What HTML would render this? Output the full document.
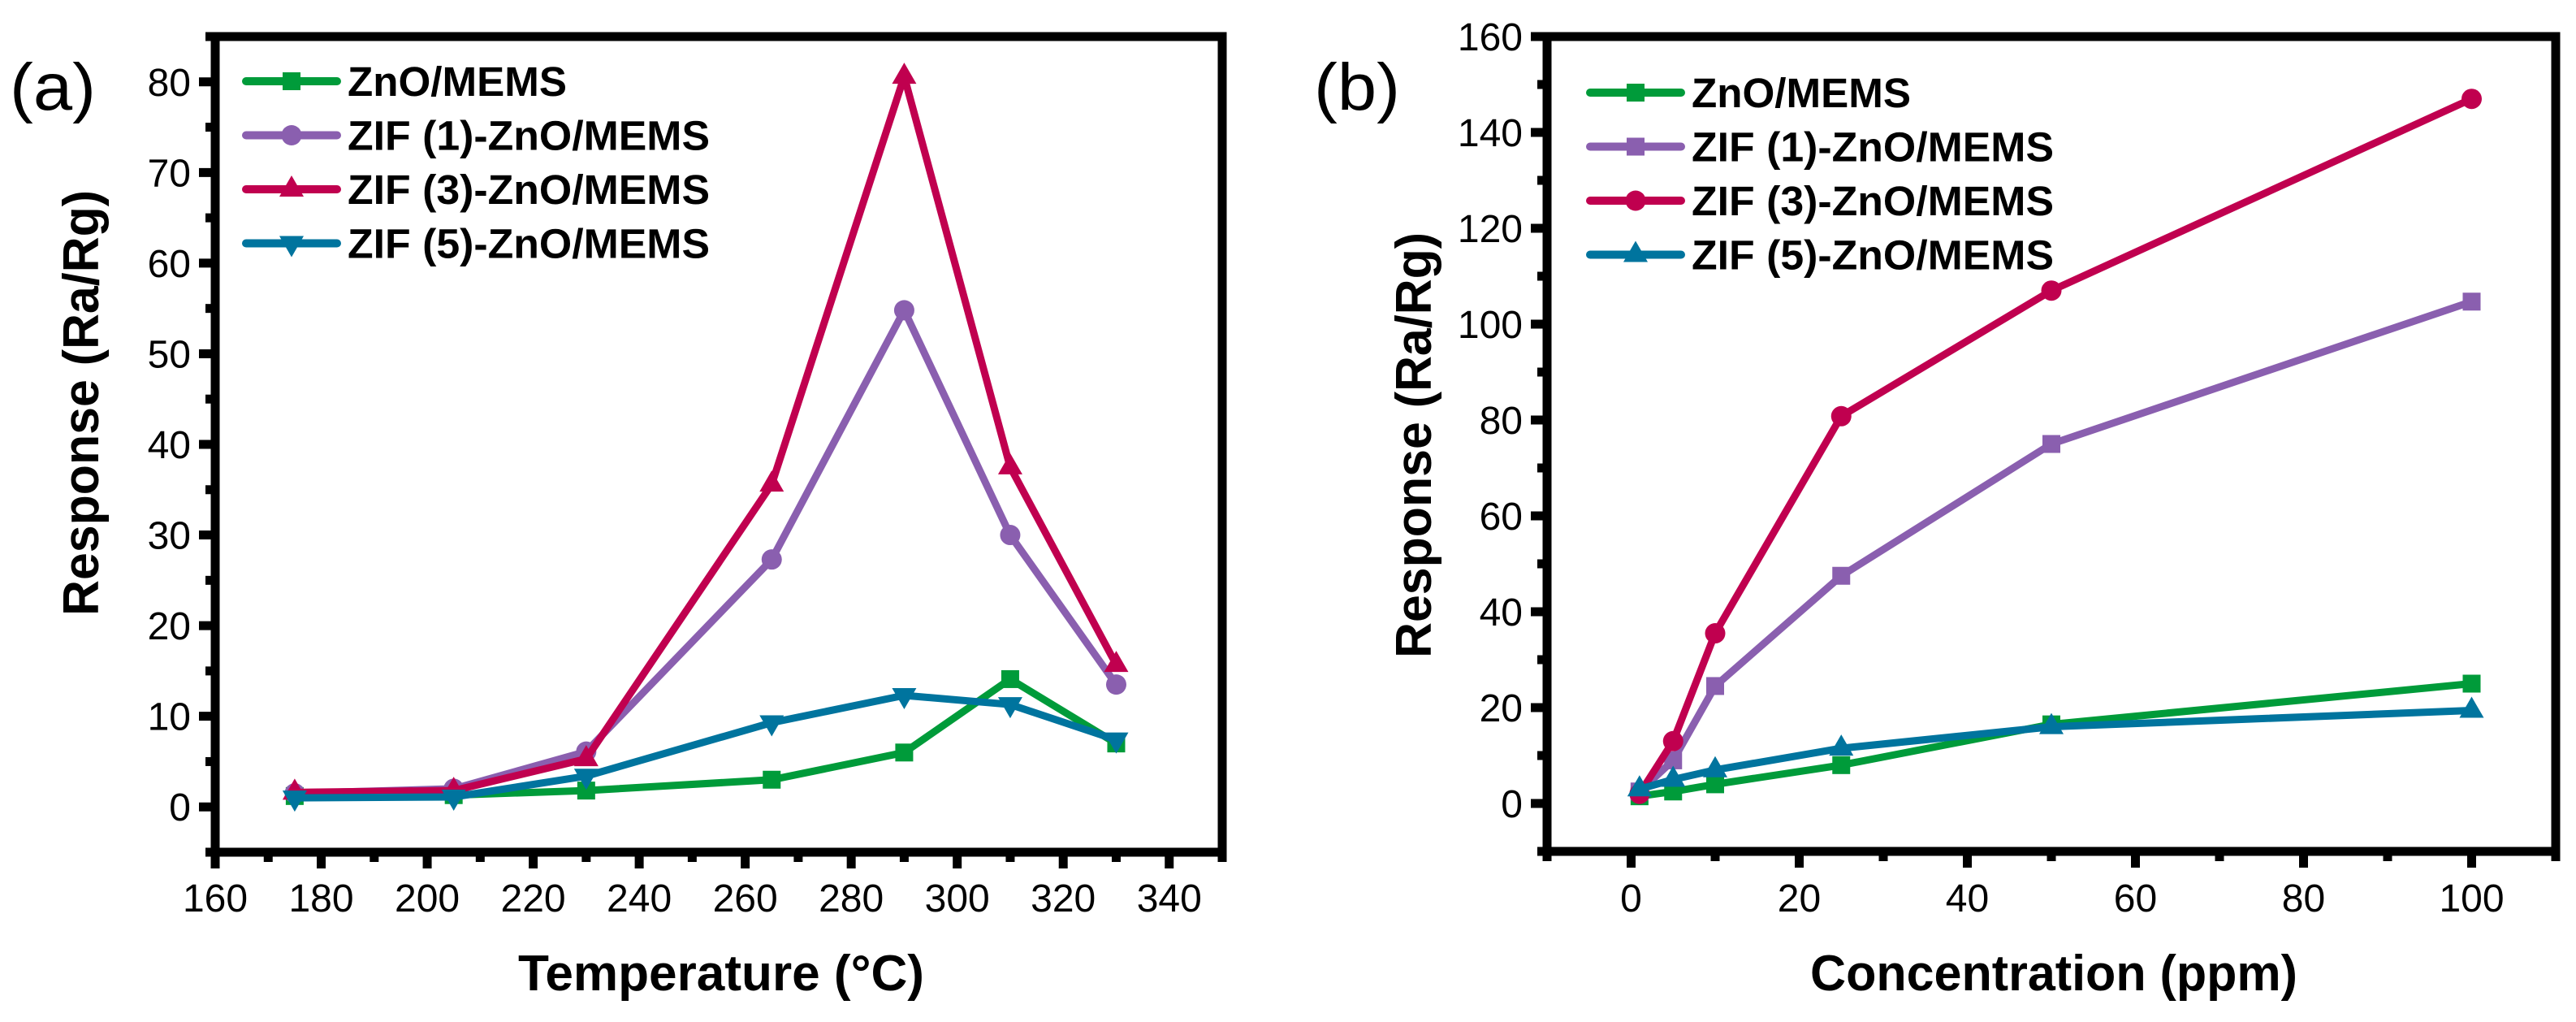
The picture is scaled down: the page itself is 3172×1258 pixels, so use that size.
<!DOCTYPE html>
<html><head><meta charset="utf-8"><style>
html,body{margin:0;padding:0;background:#fff;}
svg{display:block;font-family:"Liberation Sans",Arial,sans-serif;}
</style></head><body>
<svg id="fig" width="3172" height="1258" viewBox="0 0 3172 1258" xmlns="http://www.w3.org/2000/svg">
<rect width="3172" height="1258" fill="#fff"/>
<g id="pa"></g>
<g id="pb"></g>
</svg>
<script>
// Panel (a) data
const aTemps = [175, 205, 230, 265, 290, 310, 330];
const aZnO  = [1.2, 1.3, 1.8, 3.0, 6.0, 14.1, 7.0];
const aZIF1 = [1.5, 2.0, 6.1, 27.3, 54.8, 30.0, 13.5];
const aZIF3 = [1.6, 1.8, 5.3, 35.6, 80.6, 37.5, 15.7];
const aZIF5 = [1.0, 1.1, 3.4, 9.3, 12.3, 11.3, 7.4];
const aXTicks = [160, 180, 200, 220, 240, 260, 280, 300, 320, 340];
const aYTicks = [0, 10, 20, 30, 40, 50, 60, 70, 80];
// Panel (b) data
const bConc = [1, 5, 10, 25, 50, 100];
const bZnO  = [1.5, 2.5, 4.0, 8.0, 16.5, 25.0];
const bZIF1 = [2.5, 9.0, 24.5, 47.5, 75.0, 104.7];
const bZIF3 = [2.0, 13.0, 35.5, 80.8, 107.0, 147.0];
const bZIF5 = [3.0, 5.0, 7.0, 11.5, 16.0, 19.4];
const bXTicks = [0, 20, 40, 60, 80, 100];
const bYTicks = [0, 20, 40, 60, 80, 100, 120, 140, 160];
const seriesNames = ["ZnO/MEMS", "ZIF (1)-ZnO/MEMS", "ZIF (3)-ZnO/MEMS", "ZIF (5)-ZnO/MEMS"];

const NS = "http://www.w3.org/2000/svg";
const COLORS = ["#009B3A", "#8A5FAF", "#C0004F", "#00749E"];
function mk(parent, tag, attrs) {
  const e = document.createElementNS(NS, tag);
  for (const k in attrs) e.setAttribute(k, attrs[k]);
  parent.appendChild(e);
  return e;
}
function marker(g, shape, x, y, color) {
  let m;
  if (shape === "sq") m = mk(g, "rect", {x: x - 11, y: y - 11, width: 22, height: 22, fill: color});
  else if (shape === "ci") m = mk(g, "circle", {cx: x, cy: y, r: 12.5, fill: color});
  else if (shape === "up") m = mk(g, "polygon", {points: `${x},${y-17} ${x+15},${y+9} ${x-15},${y+9}`, fill: color});
  else m = mk(g, "polygon", {points: `${x},${y+17} ${x+15},${y-9} ${x-15},${y-9}`, fill: color});
  return m;
}
function panel(g, cfg) {
  const sx = v => cfg.x0 + (v - cfg.xmin) / (cfg.xmax - cfg.xmin) * (cfg.x1 - cfg.x0);
  const sy = v => cfg.y1 - (v - cfg.ymin) / (cfg.ymax - cfg.ymin) * (cfg.y1 - cfg.y0);
  // series
  cfg.series.forEach((s, i) => {
    const sg = mk(g, "g", {});
    
    
    const pts = cfg.xs.map((x, j) => sx(x).toFixed(1) + "," + sy(s[j]).toFixed(1)).join(" ");
    const pl = mk(sg, "polyline", {points: pts, fill: "none", stroke: COLORS[i], "stroke-width": 9, "stroke-linejoin": "round", "stroke-linecap": "round"});
    
    
    cfg.xs.forEach((x, j) => {
      const m = marker(sg, cfg.shapes[i], sx(x), sy(s[j]), COLORS[i]);
      
      
    });
  });
  // frame
  const fr = mk(g, "rect", {x: cfg.x0, y: cfg.y0, width: cfg.x1 - cfg.x0, height: cfg.y1 - cfg.y0, fill: "none", stroke: "#000", "stroke-width": 11});
  
  
  // y ticks
  for (let v = cfg.ymin; v <= cfg.ymax + 1e-6; v += cfg.yminor) {
    const major = cfg.yTicks.some(t => Math.abs(t - v) < 1e-6);
    const y = sy(v);
    mk(g, "line", {x1: cfg.x0 - (major ? 20 : 12), x2: cfg.x0, y1: y, y2: y, stroke: "#000", "stroke-width": 11});
  }
  cfg.yTicks.forEach(t => {
    const tx = mk(g, "text", {x: cfg.x0 - 30, y: sy(t) + 17, "font-size": 48, "text-anchor": "end", fill: "#000"});
    tx.textContent = t;
    
    
  });
  // x ticks
  for (let v = cfg.xmin; v <= cfg.xmax + 1e-6; v += cfg.xminor) {
    const major = cfg.xTicks.some(t => Math.abs(t - v) < 1e-6);
    const x = sx(v);
    mk(g, "line", {x1: x, x2: x, y1: cfg.y1, y2: cfg.y1 + (major ? 20 : 12), stroke: "#000", "stroke-width": 11});
  }
  cfg.xTicks.forEach(t => {
    const tx = mk(g, "text", {x: sx(t), y: 1122, "font-size": 48, "text-anchor": "middle", fill: "#000"});
    tx.textContent = t;
    
    
  });
  // titles
  const xt = mk(g, "text", {x: cfg.xtx, y: 1219, "font-size": 62, "font-weight": "bold", "text-anchor": "middle", textLength: cfg.xtLen, lengthAdjust: "spacingAndGlyphs"});
  xt.textContent = cfg.xTitle;
  
  
  const yt = mk(g, "text", {x: 0, y: 0, "font-size": 62, "font-weight": "bold", "text-anchor": "middle", textLength: 524, lengthAdjust: "spacingAndGlyphs", transform: `translate(${cfg.ytx},${cfg.yty}) rotate(-90)`});
  yt.textContent = "Response (Ra/Rg)";
  
  
  const pl = mk(g, "text", {x: cfg.plx, y: 135, "font-size": 82, textLength: 106, lengthAdjust: "spacingAndGlyphs"});
  pl.textContent = cfg.label;
  
  
  // legend
  const lg = mk(g, "g", {});
  
  
  seriesNames.forEach((n, i) => {
    const y = cfg.legY + i * 66.5;
    const e = mk(lg, "g", {});
    
    
    mk(e, "line", {x1: cfg.legX, x2: cfg.legX + 112, y1: y, y2: y, stroke: COLORS[i], "stroke-width": 10, "stroke-linecap": "round"});
    marker(e, cfg.shapes[i], cfg.legX + 56, y, COLORS[i]);
    const t = mk(e, "text", {x: cfg.legX + 125, y: y + 18, "font-size": 51, "font-weight": "bold"});
    if (i > 0) { t.setAttribute("textLength", 446); t.setAttribute("lengthAdjust", "spacingAndGlyphs"); }
    else { t.setAttribute("textLength", 270); t.setAttribute("lengthAdjust", "spacingAndGlyphs"); }
    t.textContent = n;
  });
}
panel(document.getElementById("pa"), {
  x0: 265, x1: 1505, y0: 45, y1: 1049, xmin: 160, xmax: 350, ymin: -5, ymax: 85,
  xminor: 10, yminor: 5, xTicks: aXTicks, yTicks: aYTicks, xs: aTemps,
  series: [aZnO, aZIF1, aZIF3, aZIF5], shapes: ["sq", "ci", "up", "dn"],
  xTitle: "Temperature (°C)", xtx: 888, xtLen: 500, ytx: 121, yty: 496,
  label: "(a)", plx: 12, legX: 303, legY: 100
});
panel(document.getElementById("pb"), {
  x0: 1905, x1: 3147, y0: 45, y1: 1048, xmin: -10, xmax: 110, ymin: -10, ymax: 160,
  xminor: 10, yminor: 10, xTicks: bXTicks, yTicks: bYTicks, xs: bConc,
  series: [bZnO, bZIF1, bZIF3, bZIF5], shapes: ["sq", "sq", "ci", "up"],
  xTitle: "Concentration (ppm)", xtx: 2529, xtLen: 600, ytx: 1762, yty: 548,
  label: "(b)", plx: 1618, legX: 1958, legY: 114
});
</script>
</body></html>
